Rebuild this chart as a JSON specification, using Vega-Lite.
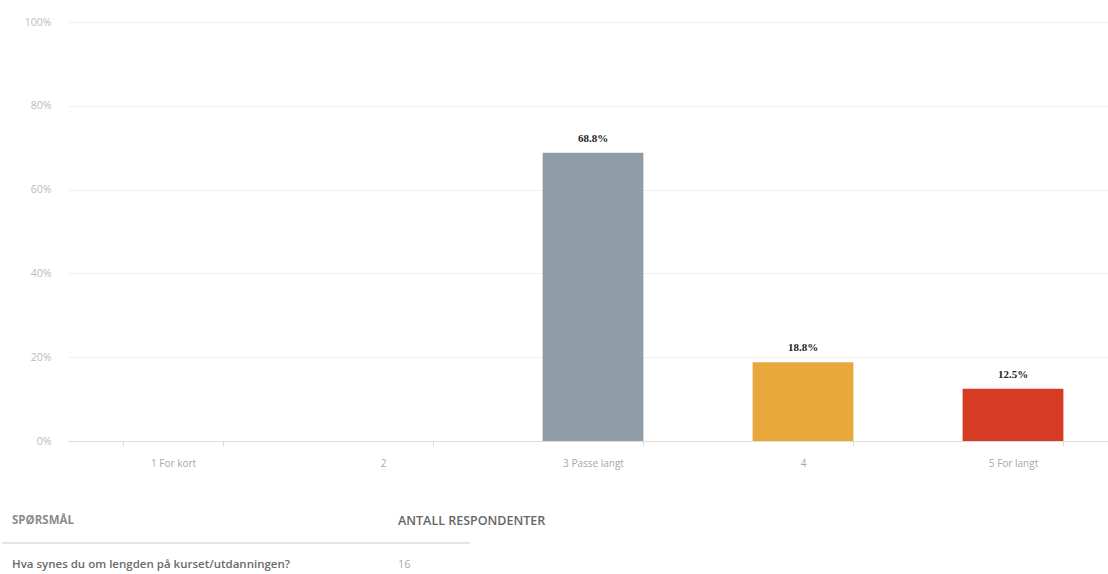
{
  "$schema": "https://vega.github.io/schema/vega-lite/v6.json",
  "background": "white",
  "padding": {"left": 1, "top": 17, "right": 0, "bottom": 0},
  "spacing": 47,
  "config": {"view": {"stroke": null}, "font": "Open Sans"},
  "vconcat": [
    {
      "width": 1050,
      "height": 419,
      "data": {"values": [
        {"svar": "1 For kort", "andel": 0},
        {"svar": "2", "andel": 0},
        {"svar": "3 Passe langt", "andel": 0.688},
        {"svar": "4", "andel": 0.188},
        {"svar": "5 For langt", "andel": 0.125}
      ]},
      "encoding": {
        "x": {
          "field": "svar", "type": "nominal", "sort": null,
          "scale": {"paddingInner": 0.52, "paddingOuter": 0.26},
          "axis": {"title": null, "labelAngle": 0, "labelColor": "#a8a8a8", "labelFontSize": 10,
                   "labelPadding": 12, "domainColor": "#dddddd", "tickColor": "#dddddd", "tickBand": "extent", "tickSize": 5}
        },
        "y": {
          "field": "andel", "type": "quantitative",
          "scale": {"domain": [0, 1]},
          "axis": {"title": null, "format": ".0%", "values": [0, 0.2, 0.4, 0.6, 0.8, 1],
                   "labelColor": "#bbbbbb", "labelFontSize": 10.5, "labelPadding": 17,
                   "domain": false, "ticks": false, "gridColor": "#f0f0f0"}
        }
      },
      "layer": [
        {
          "mark": {"type": "bar"},
          "encoding": {
            "color": {"field": "svar", "type": "nominal", "legend": null,
              "scale": {"domain": ["1 For kort", "2", "3 Passe langt", "4", "5 For langt"],
                        "range": ["#8f9ea6", "#8f9ea6", "#8f9ea6", "#e8a83c", "#d63b24"]}}
          }
        },
        {
          "transform": [{"filter": "datum.andel > 0"}],
          "mark": {"type": "text", "dy": -14, "font": "Liberation Serif", "fontWeight": "bold", "fontSize": 11, "color": "#222222"},
          "encoding": {"text": {"field": "andel", "type": "quantitative", "format": ".1%"}}
        }
      ]
    },
    {
      "width": 1050,
      "height": 44,
      "data": {"values": [
        {"kolonne": "spm", "rad": "header", "tekst": "SPØRSMÅL"},
        {"kolonne": "antall", "rad": "header", "tekst": "ANTALL RESPONDENTER"},
        {"kolonne": "spm", "rad": "body", "tekst": "Hva synes du om lengden på kurset/utdanningen?"},
        {"kolonne": "antall", "rad": "body", "tekst": "16"}
      ]},
      "encoding": {
        "x": {"field": "kolonne", "type": "nominal", "axis": null, "scale": {"type": "point", "domain": ["spm", "antall"], "range": [-56, 330], "padding": 0}},
        "y": {"field": "rad", "type": "nominal", "axis": null, "scale": {"type": "point", "domain": ["header", "body"], "range": [0, 44], "padding": 0}},
        "text": {"field": "tekst"}
      },
      "layer": [
        {
          "mark": {"type": "rule", "color": "#e3e3e3", "yOffset": 22, "xOffset": -10, "x2Offset": 72},
          "encoding": {
            "y": {"datum": "header", "type": "nominal"},
            "x": {"datum": "spm", "type": "nominal"},
            "x2": {"datum": "antall"},
            "text": null
          }
        },
        {
          "transform": [{"filter": "datum.rad === 'header' && datum.kolonne === 'spm'"}],
          "mark": {"type": "text", "align": "left", "baseline": "middle", "fontSize": 11.5, "fontWeight": 700, "color": "#8c8c8c"}
        },
        {
          "transform": [{"filter": "datum.rad === 'header' && datum.kolonne === 'antall'"}],
          "mark": {"type": "text", "align": "left", "baseline": "middle", "fontSize": 12.5, "fontWeight": 600, "color": "#666666"}
        },
        {
          "transform": [{"filter": "datum.rad === 'body' && datum.kolonne === 'spm'"}],
          "mark": {"type": "text", "align": "left", "baseline": "middle", "fontSize": 11.5, "fontWeight": 600, "color": "#6b6b6b"}
        },
        {
          "transform": [{"filter": "datum.rad === 'body' && datum.kolonne === 'antall'"}],
          "mark": {"type": "text", "align": "left", "baseline": "middle", "fontSize": 11, "color": "#aaaaaa"}
        }
      ]
    }
  ]
}
